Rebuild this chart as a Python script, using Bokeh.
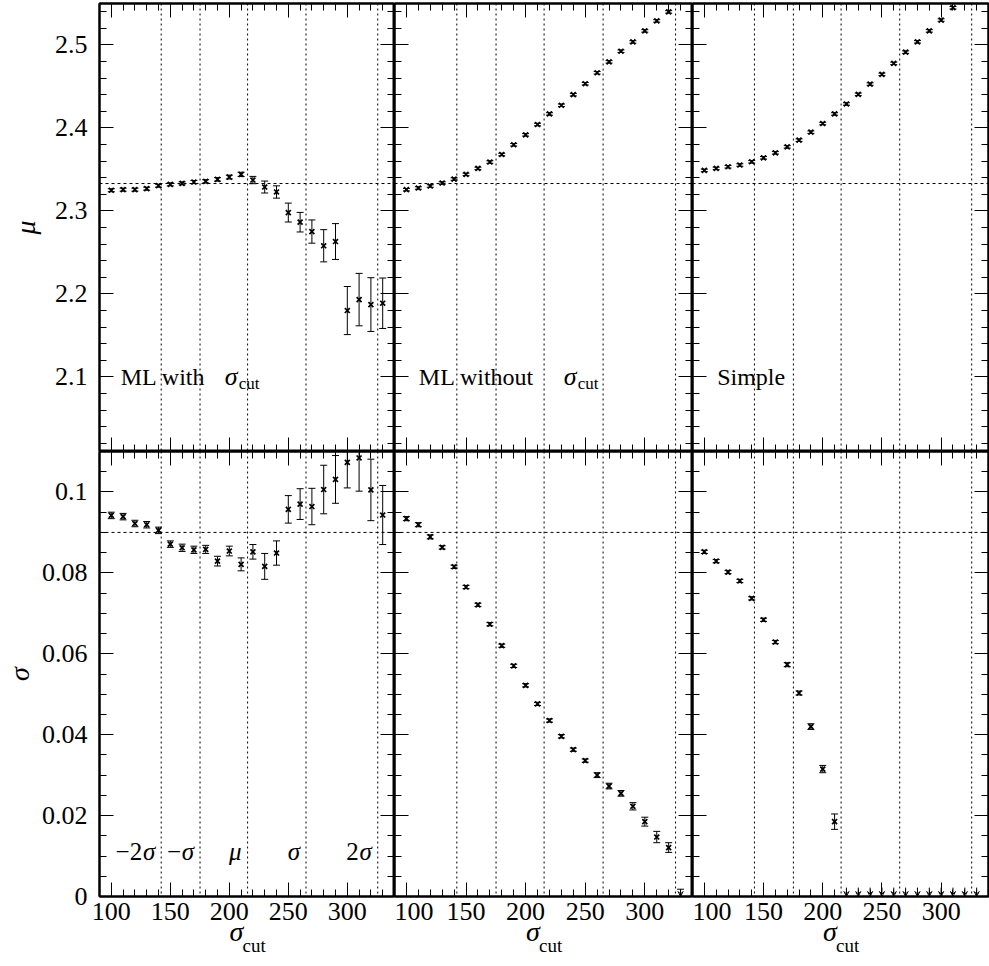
from bokeh.plotting import figure
from bokeh.models import (Range1d, LinearAxis, SingleIntervalTicker, CustomJSTickFormatter,
                          Span, Label, ColumnDataSource, Arrow, VeeHead, TeeHead)
from bokeh.layouts import gridplot
from bokeh.embed import file_html
from bokeh.resources import INLINE

FONT = "Liberation Serif"
NB = "\u00a0"

# ---------------- data ----------------
sigma_cut = [100, 110, 120, 130, 140, 150, 160, 170, 180, 190, 200, 210,
             220, 230, 240, 250, 260, 270, 280, 290, 300, 310, 320, 330]

# mu, ML with sigma_cut
mu_ml_cut = [2.3249, 2.3256, 2.3256, 2.3268, 2.3304, 2.3320, 2.3332, 2.3348, 2.3356, 2.3380,
             2.3408, 2.3440, 2.3372, 2.3288, 2.3228, 2.2980, 2.2864, 2.2751, 2.2580, 2.2631,
             2.1799, 2.1931, 2.1871, 2.1887]
mu_ml_cut_err = [0.0018, 0.0018, 0.0018, 0.0018, 0.0018, 0.0018, 0.0018, 0.0019, 0.0020, 0.0021,
                 0.0023, 0.0026, 0.0044, 0.0072, 0.0074, 0.0114, 0.0118, 0.0140, 0.0194, 0.0216,
                 0.0290, 0.0316, 0.0324, 0.0304]

# mu, ML without sigma_cut (100..320)
mu_ml_nocut = [2.3256, 2.3276, 2.3300, 2.3336, 2.3384, 2.3440, 2.3512, 2.3589, 2.3680, 2.3797,
               2.3917, 2.4041, 2.4169, 2.4273, 2.4401, 2.4533, 2.4665, 2.4797, 2.4925, 2.5037,
               2.5170, 2.5290, 2.5399]
mu_ml_nocut_err = [0.0015, 0.0015, 0.0015, 0.0015, 0.0015, 0.0015, 0.0015, 0.0015, 0.0015, 0.0015,
                   0.0015, 0.0015, 0.0015, 0.0015, 0.0015, 0.0015, 0.0015, 0.0015, 0.0015, 0.0015,
                   0.0015, 0.0015, 0.0015]

# mu, simple (100..310)
mu_simple = [2.3488, 2.3512, 2.3532, 2.3553, 2.3592, 2.3640, 2.3700, 2.3772, 2.3853, 2.3949,
             2.4053, 2.4169, 2.4289, 2.4405, 2.4529, 2.4646, 2.4778, 2.4914, 2.5038, 2.5170,
             2.5300, 2.5449]
mu_simple_err = [0.0015, 0.0015, 0.0015, 0.0015, 0.0015, 0.0015, 0.0015, 0.0015, 0.0015, 0.0015,
                 0.0015, 0.0015, 0.0015, 0.0015, 0.0015, 0.0015, 0.0015, 0.0015, 0.0015, 0.0015,
                 0.0015, 0.0015]

# sigma, ML with sigma_cut
sig_ml_cut = [0.0942, 0.0939, 0.0922, 0.0919, 0.0905, 0.0871, 0.0862, 0.0857, 0.0858, 0.0829,
              0.0854, 0.0821, 0.0852, 0.0816, 0.0849, 0.0957, 0.0970, 0.0964, 0.1006, 0.1031,
              0.1073, 0.1084, 0.1005, 0.0943]
sig_ml_cut_err = [0.0008, 0.0008, 0.0008, 0.0008, 0.0008, 0.0008, 0.0009, 0.0009, 0.0010, 0.0012,
                  0.0012, 0.0016, 0.0018, 0.0032, 0.0030, 0.0034, 0.0038, 0.0045, 0.0060, 0.0059,
                  0.0063, 0.0082, 0.0076, 0.0073]

# sigma, ML without sigma_cut (100..320), plus an upper limit at 330
sig_ml_nocut = [0.0934, 0.0919, 0.0889, 0.0863, 0.0815, 0.0765, 0.0721, 0.0673, 0.0620, 0.0570,
                0.0522, 0.0476, 0.0435, 0.0396, 0.0363, 0.0336, 0.0300, 0.0273, 0.0255, 0.0223,
                0.0185, 0.0147, 0.0121]
sig_ml_nocut_err = [0.0005, 0.0005, 0.0005, 0.0004, 0.0004, 0.0004, 0.0004, 0.0004, 0.0004, 0.0004,
                    0.0004, 0.0004, 0.0004, 0.0004, 0.0004, 0.0004, 0.0006, 0.0007, 0.0007, 0.0009,
                    0.0011, 0.0014, 0.0012]
sig_ml_nocut_ul_x = [330]
sig_ml_nocut_ul = [0.0018]

# sigma, simple (100..210), upper limits 220..330
sig_simple = [0.0852, 0.0829, 0.0802, 0.0780, 0.0737, 0.0684, 0.0629, 0.0573, 0.0503, 0.0420,
              0.0315, 0.0185]
sig_simple_err = [0.0004, 0.0004, 0.0004, 0.0004, 0.0004, 0.0004, 0.0004, 0.0005, 0.0005, 0.0007,
                  0.0009, 0.0019]
sig_simple_ul_x = [220, 230, 240, 250, 260, 270, 280, 290, 300, 310, 320, 330]
sig_simple_ul = [0.0022, 0.0022, 0.0022, 0.0022, 0.0022, 0.0022, 0.0022, 0.0022, 0.0022, 0.0022,
                 0.0022, 0.0022]

mu_ref = 2.333
sig_ref = 0.09
ref_lines = [142.3, 175.2, 215.5, 265.0, 325.8]
ref_line_prefix = ["\u22122", "\u2212", "", "", "2"]
ref_line_symbol = ["\u03c3", "\u03c3", "\u03bc", "\u03c3", "\u03c3"]

panel_titles = [("ML with", True), ("ML without", True), ("Simple", False)]

# ---------------- layout ----------------
W = [394, 298, 297]
MBL = [94, 0, 0]
MBR = [0, 0, 1]
H = [451, 515]
MBT = [3, 0]
MBB = [0, 70]


def make_axis(interval, n_minor, show, label=None, standoff=12, label_standoff=0):
    ax = LinearAxis(ticker=SingleIntervalTicker(interval=interval, num_minor_ticks=n_minor),
                    formatter=CustomJSTickFormatter(code="return String(Number(tick.toFixed(3)));"))
    ax.major_tick_in = 14
    ax.major_tick_out = 0
    ax.minor_tick_in = 7
    ax.minor_tick_out = 0
    ax.axis_line_color = "black"
    ax.axis_line_width = 2
    ax.major_tick_line_color = "black"
    ax.minor_tick_line_color = "black"
    ax.major_tick_line_width = 1
    ax.minor_tick_line_width = 1
    if show:
        ax.major_label_text_font = FONT
        ax.major_label_text_font_size = "26px"
        ax.major_label_text_color = "black"
        ax.major_label_standoff = standoff
    else:
        ax.major_label_text_font_size = "0px"
        ax.major_label_text_color = None
        ax.major_label_standoff = 0
    if label is not None:
        ax.axis_label = label
        ax.axis_label_text_font = FONT
        ax.axis_label_text_font_style = "italic"
        ax.axis_label_text_font_size = "28px"
        ax.axis_label_text_color = "black"
        ax.axis_label_standoff = label_standoff
    return ax


def subscript_axis(text, label_standoff):
    # an axis with nothing drawn but its label: used for the "cut" subscript
    ax = LinearAxis(ticker=SingleIntervalTicker(interval=50, num_minor_ticks=5))
    ax.axis_line_color = None
    ax.major_tick_line_color = None
    ax.minor_tick_line_color = None
    ax.major_tick_in = 0
    ax.major_tick_out = 0
    ax.minor_tick_in = 0
    ax.minor_tick_out = 0
    ax.major_label_text_font_size = "0px"
    ax.major_label_text_color = None
    ax.major_label_standoff = 0
    ax.axis_label = text
    ax.axis_label_text_font = FONT
    ax.axis_label_text_font_style = "normal"
    ax.axis_label_text_font_size = "19px"
    ax.axis_label_text_color = "black"
    ax.axis_label_standoff = label_standoff
    return ax


def draw_err(p, xs, ys, errs):
    lo = [y - e for y, e in zip(ys, errs)]
    hi = [y + e for y, e in zip(ys, errs)]
    src = ColumnDataSource(dict(x=xs, y=ys, lo=lo, hi=hi))
    p.segment(x0="x", y0="lo", x1="x", y1="hi", source=src, line_color="black", line_width=1)
    p.scatter("x", "lo", marker="dash", size=7, line_color="black", line_width=1, source=src)
    p.scatter("x", "hi", marker="dash", size=7, line_color="black", line_width=1, source=src)
    p.scatter("x", "y", marker="x", size=7, line_color="black", line_width=1.7, source=src)


def draw_limits(p, xs, tops, cap=False):
    src = ColumnDataSource(dict(x=xs, y0=tops, y1=[0.0] * len(xs)))
    arr = Arrow(end=VeeHead(size=5, line_color="black", line_width=1, fill_color=None),
                x_start="x", y_start="y0", x_end="x", y_end="y1", source=src,
                line_color="black", line_width=1)
    if cap:
        arr.start = TeeHead(size=7, line_color="black", line_width=1)
    p.add_layout(arr)


figs = [[None] * 3 for _ in range(2)]
for ri in range(2):
    for ci in range(3):
        yr = (2.01, 2.55) if ri == 0 else (0.0, 0.11)
        p = figure(width=W[ci], height=H[ri], x_range=Range1d(90, 340), y_range=Range1d(*yr),
                   output_backend="svg", toolbar_location=None,
                   x_axis_location=None, y_axis_location=None,
                   min_border_left=MBL[ci], min_border_right=MBR[ci],
                   min_border_top=MBT[ri], min_border_bottom=MBB[ri])
        p.background_fill_color = "white"
        p.border_fill_color = "white"
        for g in p.grid:
            g.visible = False
        p.outline_line_color = "black"
        p.outline_line_width = 2
        if ri == 1:
            p.add_layout(make_axis(50, 5, True, "\u03c3" + NB * 3, standoff=6,
                                   label_standoff=-7), "below")
            p.add_layout(subscript_axis(NB * 3 + "cut", -15), "below")
        else:
            p.add_layout(make_axis(50, 5, False), "below")
        p.add_layout(make_axis(50, 5, False), "above")
        if ri == 0:
            p.add_layout(make_axis(0.1, 5, ci == 0, "\u03bc" if ci == 0 else None,
                                   label_standoff=11), "left")
            p.add_layout(make_axis(0.1, 5, False), "right")
        else:
            p.add_layout(make_axis(0.02, 4, ci == 0, "\u03c3" if ci == 0 else None,
                                   label_standoff=4), "left")
            p.add_layout(make_axis(0.02, 4, False), "right")
        for v in ref_lines:
            p.add_layout(Span(location=v, dimension="height", line_color="black",
                              line_width=1, line_dash="2 3"))
        p.add_layout(Span(location=mu_ref if ri == 0 else sig_ref, dimension="width",
                          line_color="black", line_width=1, line_dash="3 3"))
        figs[ri][ci] = p

# data
draw_err(figs[0][0], sigma_cut, mu_ml_cut, mu_ml_cut_err)
draw_err(figs[0][1], sigma_cut[:len(mu_ml_nocut)], mu_ml_nocut, mu_ml_nocut_err)
draw_err(figs[0][2], sigma_cut[:len(mu_simple)], mu_simple, mu_simple_err)
draw_err(figs[1][0], sigma_cut, sig_ml_cut, sig_ml_cut_err)
draw_err(figs[1][1], sigma_cut[:len(sig_ml_nocut)], sig_ml_nocut, sig_ml_nocut_err)
draw_limits(figs[1][1], sig_ml_nocut_ul_x, sig_ml_nocut_ul, cap=True)
draw_err(figs[1][2], sigma_cut[:len(sig_simple)], sig_simple, sig_simple_err)
draw_limits(figs[1][2], sig_simple_ul_x, sig_simple_ul)

# panel titles
title_x = [108.0, 110.4, 110.8]
sigma_off = [104, 145]
for ci, (txt, has_sub) in enumerate(panel_titles):
    p = figs[0][ci]
    p.add_layout(Label(x=title_x[ci], y=2.1, text=txt, text_font=FONT,
                       text_font_size="24px", text_baseline="alphabetic", text_color="black"))
    if has_sub:
        p.add_layout(Label(x=title_x[ci], y=2.1, x_offset=sigma_off[ci], text="\u03c3",
                           text_font=FONT, text_font_size="26px", text_font_style="italic",
                           text_baseline="alphabetic", text_color="black"))
        p.add_layout(Label(x=title_x[ci], y=2.1, x_offset=sigma_off[ci] + 14, y_offset=-7,
                           text="cut", text_font=FONT, text_font_size="17px",
                           text_baseline="alphabetic", text_color="black"))

# line markers in bottom-left panel
pbl = figs[1][0]
for v, pre, sym in zip(ref_lines, ref_line_prefix, ref_line_symbol):
    pbl.add_layout(Label(x=v, y=0.0111, x_offset=-6, text=sym, text_font=FONT,
                         text_font_size="25px", text_font_style="italic", text_align="right",
                         text_baseline="middle", text_color="black"))
    if pre:
        pbl.add_layout(Label(x=v, y=0.0111, x_offset=-19, text=pre, text_font=FONT,
                             text_font_size="25px", text_align="right",
                             text_baseline="middle", text_color="black"))

grid = gridplot(figs, toolbar_location=None)
open("out.html", "w").write(file_html(grid, INLINE))
